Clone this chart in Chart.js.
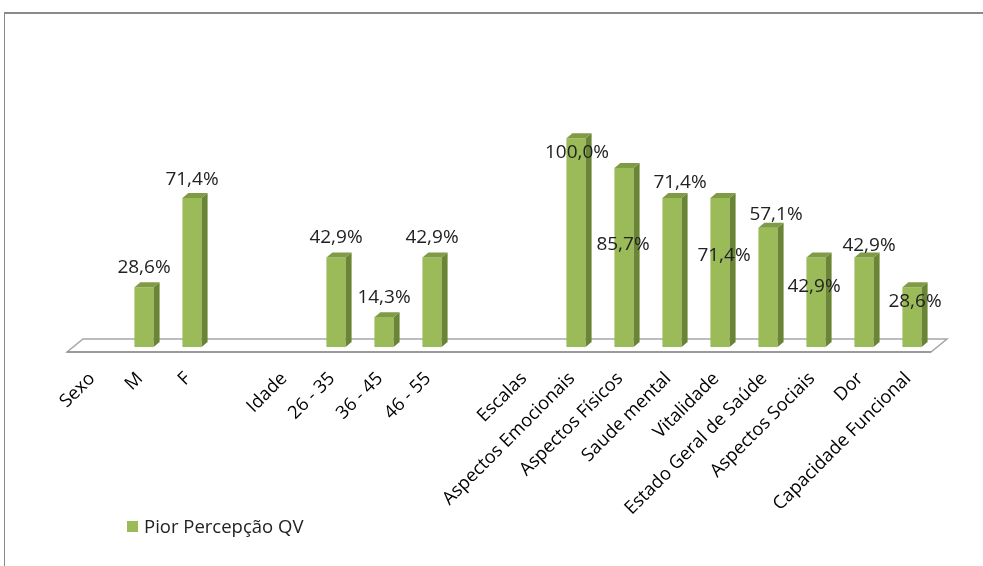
<!DOCTYPE html>
<html>
<head>
<meta charset="utf-8">
<script src="https://cdn.jsdelivr.net/npm/chart.js@4.4.0/dist/chart.umd.min.js"></script>
<style>
html, body { margin: 0; padding: 0; background: #fff; }
#wrap { position: relative; width: 983px; height: 566px; overflow: hidden; }
#frame { position: absolute; left: 4px; top: 12px; right: -5px; bottom: -5px; border-top: 2px solid #8a8a8a; border-left: 1px solid #8a8a8a; }
canvas { position: absolute; left: 0; top: 0; }
</style>
</head>
<body>
<div id="wrap">
  <div id="frame"></div>
  <canvas id="chart1" width="983" height="566"></canvas>
</div>
<script>
const categories = ['Sexo', 'M', 'F', '', 'Idade', '26 - 35', '36 - 45', '46 - 55', '', 'Escalas',
  'Aspectos Emocionais', 'Aspectos Físicos', 'Saude mental', 'Vitalidade', 'Estado Geral de Saúde',
  'Aspectos Sociais', 'Dor', 'Capacidade Funcional'];
const values = [null, 28.6, 71.4, null, null, 42.9, 14.3, 42.9, null, null,
  100, 85.7, 71.4, 71.4, 57.1, 42.9, 42.9, 28.6];
const seriesName = 'Pior Percepção QV';

// where excel put each value label, relative to the top of the bar front
const labelOffsets = [null, [0, -21], [0, -20], null, null, [0, -21], [0, -21], [0, -21], null, null,
  [1, 13], [-1, 75], [8, -17], [4, 56], [8, -15], [-2, 28], [5, -13], [3, 13]];

const green = '#9bbb59';
const font = 'Open Sans';

const bars3d = {
  id: 'bars3d',
  beforeDatasetsDraw(chart) {
    const { ctx, chartArea: a } = chart;
    const b = a.bottom;
    ctx.save();
    ctx.beginPath();
    ctx.moveTo(a.left - 5, b + 5);
    ctx.lineTo(a.right - 5, b + 5);
    ctx.lineTo(a.right + 11, b - 8);
    ctx.lineTo(a.left + 11, b - 8);
    ctx.closePath();
    ctx.fillStyle = '#fff';
    ctx.fill();
    ctx.strokeStyle = '#a6a6a6';
    ctx.lineWidth = 1.5;
    ctx.stroke();
    ctx.beginPath();
    ctx.moveTo(a.left - 5, b + 5);
    ctx.lineTo(a.right - 5, b + 5);
    ctx.lineWidth = 2;
    ctx.strokeStyle = '#9a9a9a';
    ctx.stroke();
    ctx.restore();
  },
  afterDatasetsDraw(chart) {
    const { ctx } = chart;
    const dx = 6, dy = 5;
    ctx.save();
    chart.getDatasetMeta(0).data.forEach((bar, i) => {
      if (values[i] == null) return;
      const x1 = bar.x - bar.width / 2, x2 = bar.x + bar.width / 2;
      const top = bar.y, base = bar.base;
      ctx.fillStyle = '#6b8537';
      ctx.beginPath();
      ctx.moveTo(x2, top);
      ctx.lineTo(x2 + dx, top - dy);
      ctx.lineTo(x2 + dx, base - dy);
      ctx.lineTo(x2, base);
      ctx.closePath();
      ctx.fill();
      ctx.fillStyle = '#7f9b45';
      ctx.beginPath();
      ctx.moveTo(x1, top);
      ctx.lineTo(x1 + dx, top - dy);
      ctx.lineTo(x2 + dx, top - dy);
      ctx.lineTo(x2, top);
      ctx.closePath();
      ctx.fill();
    });
    ctx.restore();
  }
};

const valueLabels = {
  id: 'valueLabels',
  afterDatasetsDraw(chart) {
    const { ctx } = chart;
    ctx.save();
    ctx.font = '19px "' + font + '"';
    ctx.fillStyle = '#222';
    ctx.textAlign = 'center';
    ctx.textBaseline = 'alphabetic';
    chart.getDatasetMeta(0).data.forEach((bar, i) => {
      if (values[i] == null) return;
      const off = labelOffsets[i];
      const txt = values[i].toFixed(1).replace('.', ',') + '%';
      ctx.fillText(txt, bar.x + off[0], bar.y + off[1] + 7);
    });
    ctx.restore();
  }
};

const sideLegend = {
  id: 'sideLegend',
  afterDraw(chart) {
    const { ctx } = chart;
    const ds = chart.data.datasets[0];
    ctx.save();
    ctx.fillStyle = ds.backgroundColor;
    ctx.fillRect(127, 521, 11, 11);
    ctx.font = '18.5px "' + font + '"';
    ctx.fillStyle = '#222';
    ctx.textAlign = 'left';
    ctx.textBaseline = 'alphabetic';
    ctx.fillText(ds.label, 144, 533);
    ctx.restore();
  }
};

const ctx = document.getElementById('chart1').getContext('2d');
const chart1 = new Chart(ctx, {
  type: 'bar',
  data: {
    labels: categories,
    datasets: [
      {
        label: seriesName,
        data: values,
        backgroundColor: green,
        categoryPercentage: 0.8,
        barPercentage: 0.5
      }
    ]
  },
  options: {
    responsive: false,
    animation: false,
    layout: { padding: { left: 72, right: 47, top: 40, bottom: 0 } },
    scales: {
      x: {
        grid: { display: false },
        border: { display: false },
        ticks: {
          autoSkip: false,
          minRotation: 45,
          maxRotation: 45,
          padding: 13,
          labelOffset: -4,
          color: '#000',
          font: { family: font, size: 18.3 }
        },
        afterFit(scale) { scale.height = 219; }
      },
      y: {
        display: false,
        min: 0,
        max: 147
      }
    },
    plugins: {
      legend: { display: false },
      tooltip: { enabled: false }
    }
  },
  plugins: [bars3d, valueLabels, sideLegend]
});
</script>
</body>
</html>
